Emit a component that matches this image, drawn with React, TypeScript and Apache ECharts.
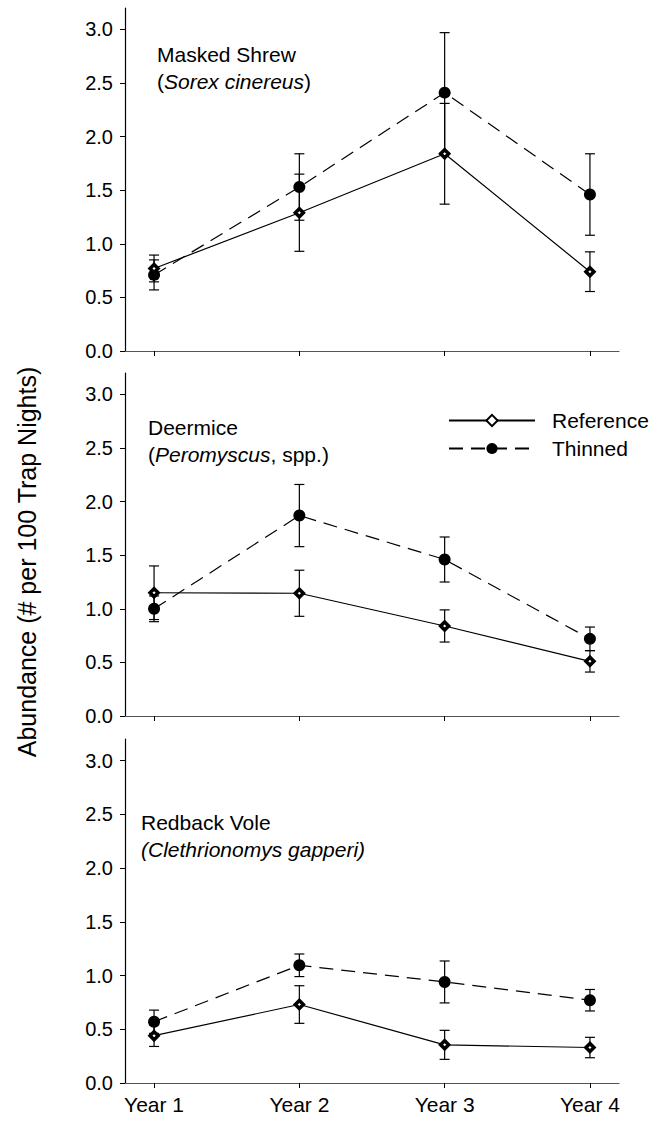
import React, { useEffect, useRef } from "react";
import * as echarts from "echarts";

const years = ["Year 1", "Year 2", "Year 3", "Year 4"];
const yearPos = [1, 2, 3, 4];
const yTicks = [0, 0.5, 1, 1.5, 2, 2.5, 3];

// Masked Shrew
const shrewRef = [0.77, 1.29, 1.84, 0.74];
const shrewRefErr = [0.125, 0.36, 0.47, 0.185];
const shrewThin = [0.71, 1.53, 2.41, 1.46];
const shrewThinErr = [0.14, 0.31, 0.56, 0.38];

// Deermice
const deerRef = [1.15, 1.145, 0.84, 0.51];
const deerRefErr = [0.25, 0.215, 0.15, 0.1];
const deerThin = [1.0, 1.87, 1.46, 0.72];
const deerThinErr = [0.12, 0.29, 0.21, 0.11];

// Redback Vole
const voleRef = [0.44, 0.73, 0.355, 0.33];
const voleRefErr = [0.1, 0.175, 0.135, 0.095];
const voleThin = [0.57, 1.095, 0.94, 0.77];
const voleThinErr = [0.108, 0.105, 0.195, 0.1];

const FONT = "Liberation Sans, Arial, Helvetica, sans-serif";

const panels = [
  { label: "{n|Masked Shrew}\n{n|(}{i|Sorex cinereus}{n|)}", lx: 157, ly: 41, ref: shrewRef, refErr: shrewRefErr, thin: shrewThin, thinErr: shrewThinErr },
  { label: "{n|Deermice}\n{n|(}{i|Peromyscus}{n|, spp.)}", lx: 148, ly: 414, ref: deerRef, refErr: deerRefErr, thin: deerThin, thinErr: deerThinErr },
  { label: "{n|Redback Vole}\n{i|(Clethrionomys gapperi)}", lx: 141, ly: 809, ref: voleRef, refErr: voleRefErr, thin: voleThin, thinErr: voleThinErr },
];

const grids = [
  { left: 125, width: 494, top: 8, height: 343 },
  { left: 125, width: 494, top: 373, height: 343 },
  { left: 125, width: 494, top: 739, height: 344 },
];

function errRender(params: any, api: any) {
  const x = api.value(0);
  const lo = api.value(1);
  const hi = api.value(2);
  const pHi = api.coord([x, hi]);
  const pLo = api.coord([x, lo]);
  const cap = 5;
  const style = { stroke: "#000", lineWidth: 1.2 };
  return {
    type: "group",
    children: [
      { type: "line", shape: { x1: pHi[0], y1: pHi[1], x2: pLo[0], y2: pLo[1] }, style },
      { type: "line", shape: { x1: pHi[0] - cap, y1: pHi[1], x2: pHi[0] + cap, y2: pHi[1] }, style },
      { type: "line", shape: { x1: pLo[0] - cap, y1: pLo[1], x2: pLo[0] + cap, y2: pLo[1] }, style },
    ],
  };
}

export default function App() {
  const ref = useRef<HTMLDivElement>(null);
  useEffect(() => {
    if (!ref.current) return;
    const chart = echarts.init(ref.current, undefined, { renderer: "svg" });

    const xAxis = grids.map((_, i) => ({
      type: "value",
      gridIndex: i,
      min: 0.8,
      max: 4.2,
      splitLine: { show: false },
      axisLine: { show: true, lineStyle: { color: "#555", width: 1.2 } },
      axisTick: { show: true, inside: false, length: 5, customValues: yearPos, lineStyle: { color: "#000" } },
      axisLabel: {
        show: i === 2,
        customValues: yearPos,
        formatter: (v: number) => years[Math.round(v) - 1] || "",
        fontSize: 21,
        fontFamily: FONT,
        color: "#000",
        margin: 11,
      },
    }));

    const yAxis = grids.map((_, i) => ({
      type: "value",
      gridIndex: i,
      min: 0,
      max: 3.2,
      splitLine: { show: false },
      axisLine: { show: true, onZero: false, lineStyle: { color: "#000", width: 1.2 } },
      axisTick: { show: true, inside: false, length: 5, customValues: yTicks, lineStyle: { color: "#000" } },
      axisLabel: {
        customValues: yTicks,
        formatter: (v: number) => v.toFixed(1),
        fontSize: 20,
        fontFamily: FONT,
        color: "#000",
        margin: 12,
      },
    }));

    const series: any[] = [];
    panels.forEach((p, i) => {
      series.push({
        type: "custom",
        xAxisIndex: i,
        yAxisIndex: i,
        renderItem: errRender,
        encode: { x: 0, y: [1, 2] },
        data: yearPos.map((x, k) => [x, p.ref[k] - p.refErr[k], p.ref[k] + p.refErr[k]]),
        z: 1,
        silent: true,
      });
      series.push({
        type: "custom",
        xAxisIndex: i,
        yAxisIndex: i,
        renderItem: errRender,
        encode: { x: 0, y: [1, 2] },
        data: yearPos.map((x, k) => [x, p.thin[k] - p.thinErr[k], p.thin[k] + p.thinErr[k]]),
        z: 1,
        silent: true,
      });
      series.push({
        name: "Reference",
        type: "line",
        xAxisIndex: i,
        yAxisIndex: i,
        data: yearPos.map((x, k) => [x, p.ref[k]]),
        symbol: "diamond",
        symbolSize: 8,
        lineStyle: { color: "#000", width: 1.2, type: "solid" },
        itemStyle: { color: "#fff", borderColor: "#000", borderWidth: 3.5 },
        z: 3,
      });
      series.push({
        name: "Thinned",
        type: "line",
        xAxisIndex: i,
        yAxisIndex: i,
        data: yearPos.map((x, k) => [x, p.thin[k]]),
        symbol: "circle",
        symbolSize: 12,
        lineStyle: { color: "#000", width: 1.2, type: [14, 8] },
        itemStyle: { color: "#000", borderColor: "#000", borderWidth: 0 },
        z: 2,
      });
    });

    const graphic: any[] = panels.map((p) => ({
      type: "text",
      x: p.lx,
      y: p.ly,
      style: {
        text: p.label,
        fill: "#000",
        rich: {
          n: { fontSize: 21, fontFamily: FONT, lineHeight: 27, fill: "#000" },
          i: { fontSize: 21, fontFamily: FONT, fontStyle: "italic", lineHeight: 27, fill: "#000" },
        },
      },
    }));
    graphic.push({
      type: "text",
      x: 27,
      y: 562,
      rotation: Math.PI / 2,
      style: {
        text: "Abundance (# per 100 Trap Nights)",
        fontSize: 25,
        fontFamily: FONT,
        fill: "#000",
        textAlign: "center",
        textVerticalAlign: "middle",
      },
    });

    chart.setOption({
      animation: false,
      backgroundColor: "#fff",
      grid: grids,
      xAxis,
      yAxis,
      series,
      graphic,
      legend: {
        data: ["Reference", "Thinned"],
        orient: "vertical",
        left: 443,
        top: 405,
        itemWidth: 86,
        itemHeight: 14,
        itemGap: 7,
        selectedMode: false,
        textStyle: { fontSize: 21, fontFamily: FONT, color: "#000", lineHeight: 20, padding: [0, 0, 0, 12] },
      },
    });
    return () => chart.dispose();
  }, []);
  return <div ref={ref} style={{ position: "absolute", left: 0, top: 0, width: 654, height: 1122 }} />;
}
